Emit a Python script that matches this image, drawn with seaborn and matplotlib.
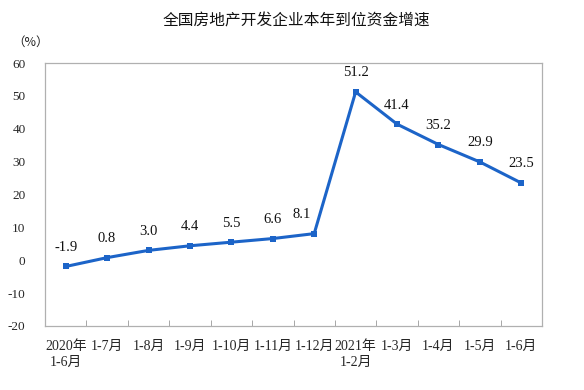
import matplotlib
matplotlib.use("Agg")
import matplotlib.pyplot as plt
import seaborn as sns
import pandas as pd

categories = ["2020年\n1-6月", "1-7月", "1-8月", "1-9月", "1-10月", "1-11月", "1-12月",
              "2021年\n1-2月", "1-3月", "1-4月", "1-5月", "1-6月"]
values = [-1.9, 0.8, 3.0, 4.4, 5.5, 6.6, 8.1, 51.2, 41.4, 35.2, 29.9, 23.5]
yticks = [-20, -10, 0, 10, 20, 30, 40, 50, 60]

sns.set_theme(style="white")
fam = ["Liberation Serif", "Noto Sans CJK SC"]
plt.rcParams["font.family"] = fam

df = pd.DataFrame({"x": range(len(categories)), "v": values})

fig = plt.figure(figsize=(5.84, 3.9), dpi=100)
ax = fig.add_axes([45/584, 1-326/390, (542-45)/584, (326-63)/390])
color = "#1c64c8"
sns.lineplot(data=df, x="x", y="v", ax=ax, color=color, linewidth=2.2,
             marker="s", markersize=4.5, markeredgewidth=0, markerfacecolor=color)

for i, v in enumerate(values):
    dx = -9 if i == 6 else 0
    ax.annotate(f"{v:.1f}", (i, v), xytext=(dx, 9), textcoords="offset points",
                ha="center", va="bottom", fontsize=10.5, family=fam, color="#111111")

ax.set_xlim(-0.5, len(categories) - 0.5)
ax.set_ylim(-20, 60)
ax.set_yticks(yticks)
ax.set_yticklabels([str(t) for t in yticks], fontsize=9.5, family=fam)
ax.set_xticks(range(len(categories)))
ax.set_xticklabels(categories, fontsize=10, family=fam, linespacing=1.35)
ax.tick_params(axis="x", length=0, pad=10)
ax.tick_params(axis="y", length=3, direction="in", width=0.6, color="#999999", pad=14)
ax.set_xticks([i + 0.5 for i in range(len(categories) - 1)], minor=True)
ax.tick_params(axis="x", which="minor", length=4, direction="in", width=0.6, color="#999999", bottom=True)
for s in ax.spines.values():
    s.set_color("#b0b0b0")
    s.set_linewidth(0.9)
ax.set_xlabel("")
ax.set_ylabel("")

fig.text(296/584, 1-21/390, "全国房地产开发企业本年到位资金增速", ha="center", va="center",
         fontsize=11.3, family=["Noto Sans CJK SC", "DejaVu Sans"], color="#111111")
fig.text(12/584, 1-42/390, "（%）", ha="left", va="center", fontsize=9,
         family=["Noto Sans CJK SC", "DejaVu Sans"], color="#222222")

fig.savefig("out.png", dpi=100)
